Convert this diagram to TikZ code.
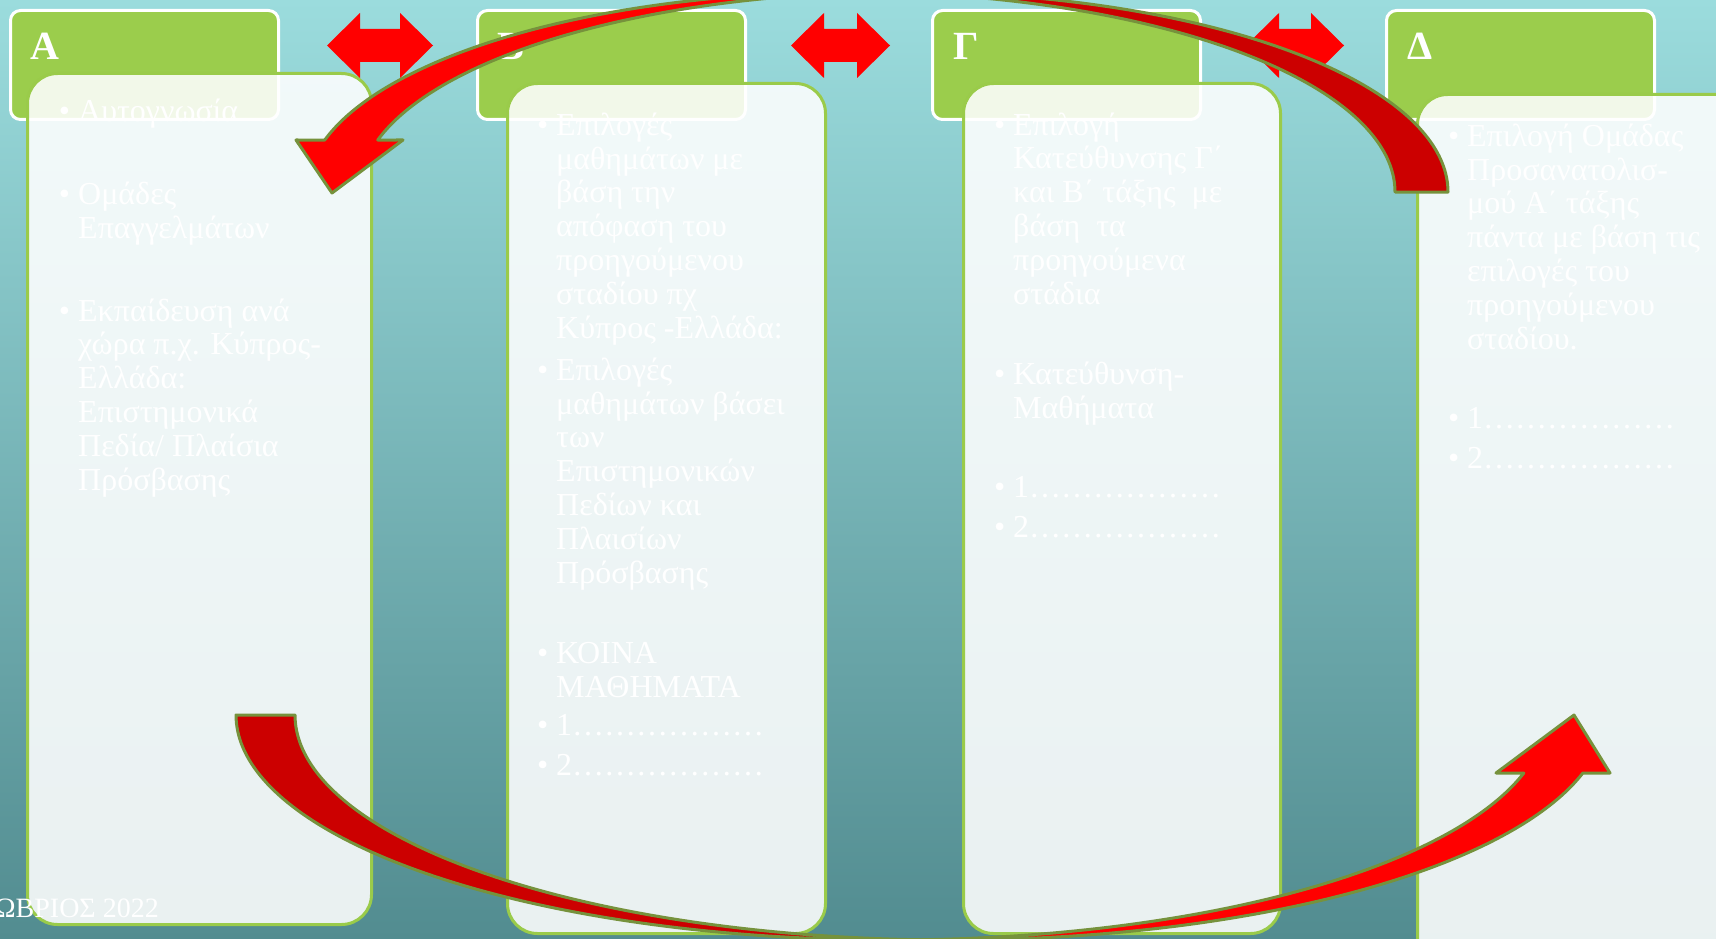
\documentclass[tikz,border=0pt]{standalone}
\usepackage{fontspec}
\setmainfont{Liberation Serif}
\definecolor{bgtop}{HTML}{9BDCDD}
\definecolor{bgmid}{HTML}{86CBCD}
\definecolor{bgbot}{HTML}{528C90}
\definecolor{hdrgreen}{HTML}{9BCD4C}
\definecolor{boxgreen}{HTML}{9ACB4A}
\definecolor{arrred}{HTML}{FF0000}
\definecolor{arrdark}{HTML}{CC0000}
\definecolor{arrline}{HTML}{76923C}
\newcommand\itembul{\llap{•\hspace{8pt}}}
\newcommand\dblarr[2]{%
  \fill[arrred] (#1,45.5) -- ({#1+33},13) -- ({#1+33},29) -- ({#2-33},29) -- ({#2-33},13) -- (#2,45.5)
    -- ({#2-33},78) -- ({#2-33},62) -- ({#1+33},62) -- ({#1+33},78) -- cycle;}
\tikzset{
  hdr/.style={draw=white, line width=3pt, fill=hdrgreen, rounded corners=10pt, anchor=north west, minimum width=268pt, minimum height=109pt, inner sep=0pt},
  card/.style={draw=boxgreen, line width=3pt, fill=white, fill opacity=0.88, rounded corners=30pt, anchor=north west, inner sep=0pt},
  frontband/.style={fill=arrred, draw=arrline, line width=3pt, line join=round},
  backband/.style={fill=arrdark, draw=arrline, line width=3pt, line join=round},
  txt/.style={text=white, font=\fontsize{32}{33.8}\selectfont, anchor=base west, inner sep=0pt, align=left},
  hdrtxt/.style={text=white, font=\fontsize{40}{44}\selectfont\bfseries, anchor=base west, inner sep=0pt},
}
\begin{document}
\begin{tikzpicture}[x=1pt, y=-1pt]
\useasboundingbox (0,0) rectangle (1716,939);
\clip (0,0) rectangle (1716,939);
\shade[top color=bgtop, middle color=bgmid, bottom color=bgbot] (0,0) rectangle (1716,939);

% headers
\node[hdr] (hA) at (9,9) {};
\node[hdr] (hB) at (476,9) {};
\node[hdr] (hG) at (931,9) {};
\node[hdr] (hD) at (1385,9) {};
\node[hdrtxt] (lA) at (30,60) {Α};
\node[hdrtxt] (lB) at (497,60) {Β};
\node[hdrtxt] (lG) at (953,60) {Γ};
\node[hdrtxt] (lD) at (1407,60) {Δ};

% cards
\node[card, minimum width=344pt, minimum height=851pt] (cA) at (26,72) {};
\node[card, minimum width=318pt, minimum height=850pt] (cB) at (506,82) {};
\node[card, minimum width=317pt, minimum height=850pt] (cG) at (962,82) {};
\node[card, minimum width=340pt, minimum height=880pt] (cD) at (1416,93) {};

% texts (multi-line nodes are anchored at the baseline of their last line)
\node[txt] (a1) at (78,122) {\itembul Αυτογνωσία};
\node[txt] (a2) at (78,238) {\itembul Ομάδες\\Επαγγελμάτων};
\node[txt] (a3) at (78,490) {\itembul Εκπαίδευση ανά\\χώρα π.χ. Κύπρος-\\Ελλάδα:\\Επιστημονικά\\Πεδία/ Πλαίσια\\Πρόσβασης};

\node[txt] (b1) at (556,338) {\itembul Επιλογές\\μαθημάτων με\\βάση την\\απόφαση του\\προηγούμενου\\σταδίου πχ\\Κύπρος -Ελλάδα:};
\node[txt] (b2) at (556,583) {\itembul Επιλογές\\μαθημάτων βάσει\\των\\Επιστημονικών\\Πεδίων και\\Πλαισίων\\Πρόσβασης};
\node[txt] (b3) at (556,697) {\itembul ΚΟΙΝΑ\\ΜΑΘΗΜΑΤΑ};
\node[txt] (b4) at (556,735) {\itembul 1………………};
\node[txt] (b5) at (556,775) {\itembul 2………………};

\node[txt] (g1) at (1013,304) {\itembul Επιλογή\\Κατεύθυνσης Γ΄\\και Β΄ τάξης\ \ με\\βάση\ \ τα\\προηγούμενα\\στάδια};
\node[txt] (g2) at (1013,418) {\itembul Κατεύθυνση-\\Μαθήματα};
\node[txt] (g3) at (1013,497) {\itembul 1………………};
\node[txt] (g4) at (1013,537) {\itembul 2………………};

\node[txt] (d1) at (1467,349) {\itembul Επιλογή Ομάδας\\Προσανατολισ-\\μού Α΄ τάξης\\πάντα με βάση τις\\επιλογές του\\προηγούμενου\\σταδίου.};
\node[txt] (d2) at (1467,428) {\itembul 1………………};
\node[txt] (d3) at (1467,468) {\itembul 2………………};

\node[text=white, font=\fontsize{28}{30}\selectfont, anchor=base east, inner sep=0pt] (foot) at (159,917) {ΩΒΡΙΟΣ 2022};

% double arrows
\dblarr{327}{433}
\dblarr{791}{890}
\dblarr{1246}{1344}

% top curved arrow
\draw[backband] plot[domain=92.8:0, samples=90] ({903.5+544.5*cos(\x)},{192-200*sin(\x)})
  -- plot[domain=0:87.2, samples=90] ({850.5+544.5*cos(\x)},{192-200*sin(\x)}) -- cycle;
\draw[frontband] plot[domain=164.93:87.2, samples=90] ({850.5+544.5*cos(\x)},{192-200*sin(\x)})
  -- plot[domain=92.8:164.93, samples=90] ({903.5+544.5*cos(\x)},{192-200*sin(\x)})
  -- (403,140) -- (332,193) -- (296,140) -- cycle;

% bottom curved arrow
\draw[backband] plot[domain=180:272.58, samples=90] ({891+655*cos(\x)},{715-225*sin(\x)})
  -- plot[domain=267.42:180, samples=90] ({950+655*cos(\x)},{715-225*sin(\x)}) -- cycle;
\draw[frontband] plot[domain=267.42:345.06, samples=90] ({950+655*cos(\x)},{715-225*sin(\x)})
  -- (1610,773) -- (1574,715) -- (1496,773)
  -- plot[domain=345.06:272.58, samples=90] ({891+655*cos(\x)},{715-225*sin(\x)}) -- cycle;
\end{tikzpicture}
\end{document}
